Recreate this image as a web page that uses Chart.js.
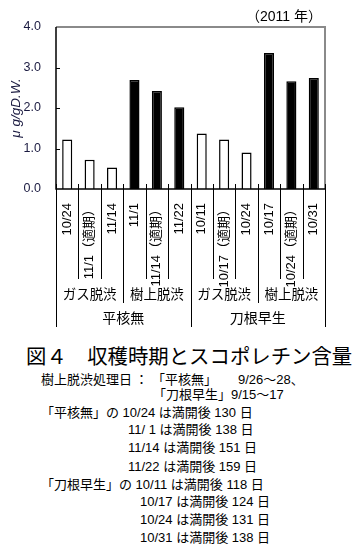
<!DOCTYPE html>
<html>
<head>
<meta charset="utf-8">
<script src="https://cdn.jsdelivr.net/npm/chart.js@4.4.1/dist/chart.umd.min.js"></script>
<style>
  body { margin: 0; background: #fff; }
  #wrap { position: relative; width: 360px; height: 552px; font-family: 'Liberation Sans', 'Noto Sans CJK JP', sans-serif; color: #000; }
  canvas { position: absolute; left: 0; top: 0; }
  .t { position: absolute; white-space: pre; line-height: 18px; font-size: 13px; }
</style>
</head>
<body>
<div id="wrap">
  <canvas id="chart" width="360" height="335"></canvas>
  <div class="t" style="left:246px; top:7px; font-size:14px;">（2011 年）</div>
  <div class="t" style="left:26px; top:344px; font-size:20.4px; line-height:22px; font-family:'Noto Sans CJK JP', sans-serif;">図４　収穫時期とスコポレチン含量</div>
  <div class="t" style="left:41px; top:371px;">樹上脱渋処理日</div>
  <div class="t" style="left:135px; top:371px;">：</div>
  <div class="t" style="left:152px; top:371px;">「平核無」</div>
  <div class="t" style="left:238px; top:371px;">9/26～28、</div>
  <div class="t" style="left:153px; top:386px;">「刀根早生」9/15～17</div>
  <div class="t" style="left:41px; top:404px;">「平核無」の 10/24 は満開後 130 日</div>
  <div class="t" style="left:128px; top:421px;">11/ 1 は満開後 138 日</div>
  <div class="t" style="left:128px; top:439px;">11/14 は満開後 151 日</div>
  <div class="t" style="left:128px; top:458px;">11/22 は満開後 159 日</div>
  <div class="t" style="left:41px; top:476px;">「刀根早生」の 10/11 は満開後 118 日</div>
  <div class="t" style="left:140px; top:493px;">10/17 は満開後 124 日</div>
  <div class="t" style="left:140px; top:511px;">10/24 は満開後 131 日</div>
  <div class="t" style="left:140px; top:529px;">10/31 は満開後 138 日</div>
</div>
<script>
// harvest dates (適期 = optimum harvest)
const labels = ['10/24', '11/1（適期）', '11/14', '11/1', '11/14（適期）', '11/22',
                '10/11', '10/17（適期）', '10/24', '10/17', '10/24（適期）', '10/31'];
// scopoletin, μg/gD.W.
const values = [1.22, 0.72, 0.53, 2.69, 2.42, 2.02, 1.37, 1.22, 0.90, 3.36, 2.66, 2.74];
const treatments = ['ガス脱渋', '樹上脱渋', 'ガス脱渋', '樹上脱渋'];
const cultivars = ['平核無', '刀根早生'];
const barsPerTreatment = 3;
const yTicks = [0, 1, 2, 3, 4];

const font = "'Liberation Sans', 'Noto Sans CJK JP', sans-serif";

// gas = open bars, tree = filled bars
const fills = labels.map((_, i) => Math.floor(i / barsPerTreatment) % 2 === 0 ? '#fff' : '#000');

const framePlugin = {
  id: 'frame',
  afterDraw(chart) {
    const { ctx, chartArea: a, scales: { x, y } } = chart;
    const n = labels.length;
    const step = (a.right - a.left) / n;
    ctx.save();

    ctx.strokeStyle = '#8a8a8a';
    ctx.lineWidth = 2;
    ctx.beginPath();
    ctx.moveTo(a.left, a.top);
    ctx.lineTo(a.right, a.top);
    ctx.lineTo(a.right, a.bottom);
    ctx.stroke();

    ctx.strokeStyle = '#000';
    ctx.lineWidth = 1.5;
    ctx.beginPath();
    ctx.moveTo(a.left, a.top);
    ctx.lineTo(a.left, a.bottom);
    ctx.lineTo(a.right, a.bottom);
    ctx.stroke();

    ctx.lineWidth = 1;
    ctx.beginPath();
    yTicks.slice(1, -1).forEach(v => {
      const py = Math.round(y.getPixelForValue(v)) + 0.5;
      ctx.moveTo(a.left, py);
      ctx.lineTo(a.left + 4, py);
    });
    for (let i = 0; i <= n; i++) {
      const px = Math.round(x.getPixelForValue(0) - step / 2 + i * step) + 0.5;
      let len = 90;
      if (i % (barsPerTreatment * 2) === 0) len = 138;
      else if (i % barsPerTreatment === 0) len = 114;
      ctx.moveTo(px, a.bottom - 5);
      ctx.lineTo(px, a.bottom + len);
    }
    ctx.stroke();

    ctx.fillStyle = '#000';
    ctx.textAlign = 'center';
    ctx.textBaseline = 'middle';
    ctx.font = '13.5px ' + font;
    treatments.forEach((t, k) => {
      const cx = a.left + step * barsPerTreatment * (k + 0.5);
      ctx.fillText(t, cx, a.bottom + 106);
    });
    ctx.font = '14px ' + font;
    cultivars.forEach((c, k) => {
      const cx = a.left + step * barsPerTreatment * 2 * (k + 0.5);
      ctx.fillText(c, cx, a.bottom + 130);
    });
    ctx.restore();
  }
};

new Chart(document.getElementById('chart'), {
  type: 'bar',
  data: {
    labels: labels,
    datasets: [{
      data: values,
      backgroundColor: fills,
      borderColor: '#000',
      borderWidth: 1.5,
      barPercentage: 0.45,
      categoryPercentage: 1.0
    }]
  },
  options: {
    responsive: false,
    animation: false,
    devicePixelRatio: 1,
    layout: { padding: { left: 0, right: 35, top: 27, bottom: 0 } },
    plugins: { legend: { display: false }, tooltip: { enabled: false } },
    scales: {
      x: {
        offset: true,
        grid: { display: false, drawTicks: false },
        border: { display: false },
        ticks: {
          autoSkip: false, maxRotation: 90, minRotation: 90,
          padding: 14, color: '#000', font: { family: font, size: 13 }
        },
        afterFit: s => { s.height = 146; }
      },
      y: {
        min: 0, max: 4,
        grid: { display: false, drawTicks: false },
        border: { display: false },
        ticks: {
          stepSize: 1, padding: 15, color: '#1a1a40',
          font: { family: font, size: 12.5 },
          callback: v => v.toFixed(1)
        },
        title: {
          display: true, text: 'μ g/gD.W.', color: '#1a1a40',
          font: { family: font, size: 13.5, style: 'italic' },
          padding: { top: 8, bottom: 0 }
        },
        afterFit: s => { s.width = 56; }
      }
    }
  },
  plugins: [framePlugin]
});
</script>
</body>
</html>
